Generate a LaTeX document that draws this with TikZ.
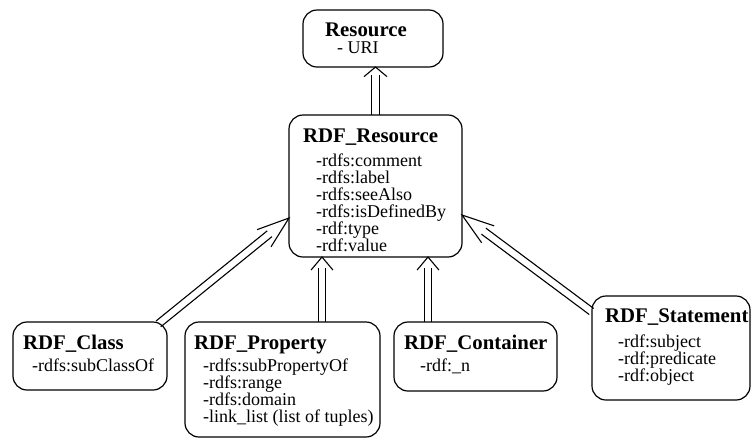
\documentclass[tikz,border=0pt]{standalone}
\usepackage{fontspec}
\setmainfont{Liberation Serif}
\usetikzlibrary{calc}
\tikzset{
  box/.style={draw, line width=1.2pt, rounded corners=14pt, inner sep=0pt, outer sep=0pt},
  ttl/.style={anchor=base west, inner sep=0pt, font=\fontsize{20.8}{22}\selectfont\bfseries},
  att/.style={anchor=base west, inner sep=0pt, font=\fontsize{18}{17}\selectfont},
  conn/.style={line width=1.1pt, line join=miter}
}
\newcommand\inhconn[5]{%
  \coordinate (q) at ($(#2)!#3!(#1)$);
  \draw[conn] ($(#1)!3.75pt!90:(#2)$) -- ($(q)!3.75pt!-90:(#1)$);
  \draw[conn] ($(#1)!3.75pt!-90:(#2)$) -- ($(q)!3.75pt!90:(#1)$);
  \draw[conn] ($(#2)!#4!#5:(#1)$) -- (#2) -- ($(#2)!#4!-#5:(#1)$);
}
\begin{document}
\begin{tikzpicture}[x=1pt,y=-1pt]
\useasboundingbox (0,0) rectangle (752,440);
% boxes
\node[box, minimum width=140pt, minimum height=57pt] (res) at (373,38.5) {};
\node[box, minimum width=173pt, minimum height=142pt] (rdfres) at (375.5,186) {};
\node[box, minimum width=154pt, minimum height=68pt] (cls) at (90,356) {};
\node[box, minimum width=195pt, minimum height=115pt] (prop) at (282.5,379.5) {};
\node[box, minimum width=163pt, minimum height=69pt] (cont) at (475.5,356.5) {};
\node[box, minimum width=158pt, minimum height=104pt] (stmt) at (671,348) {};
% texts
\node[ttl] (resT) at (325,36) {Resource};
\node[att] (resA) at (337,53) {- URI};
\node[ttl] (rrT) at (303,142) {RDF\_Resource};
\node[att] (rr1) at (316,166.7) {-rdfs:comment};
\node[att] (rr2) at (316,183.6) {-rdfs:label};
\node[att] (rr3) at (316,200.5) {-rdfs:seeAlso};
\node[att] (rr4) at (316,217.4) {-rdfs:isDefinedBy};
\node[att] (rr5) at (316,234.3) {-rdf:type};
\node[att] (rr6) at (316,251.2) {-rdf:value};
\node[ttl] (clsT) at (23,349) {RDF\_Class};
\node[att] (cls1) at (32,371) {-rdfs:subClassOf};
\node[ttl] (propT) at (194,349) {RDF\_Property};
\node[att] (prop1) at (203,371.5) {-rdfs:subPropertyOf};
\node[att] (prop2) at (203,388.5) {-rdfs:range};
\node[att] (prop3) at (203,405.5) {-rdfs:domain};
\node[att] (prop4) at (203,422.5) {-link\_list (list of tuples)};
\node[ttl] (contT) at (404,349) {RDF\_Container};
\node[att] (cont1) at (420,371) {-rdf:\_n};
\node[ttl] (stmtT) at (605,322) {RDF\_Statement};
\node[att] (stmt1) at (618,347) {-rdf:subject};
\node[att] (stmt2) at (618,364) {-rdf:predicate};
\node[att] (stmt3) at (618,381) {-rdf:object};
% connector end points
\coordinate (t1) at (rdfres.north |- res.south);
\coordinate (c1) at (rdfres.north);
\coordinate (t2) at ($(rdfres.south west)+(33,0)$);
\coordinate (c2) at (t2 |- prop.north);
\coordinate (t3) at ($(rdfres.south east)+(-34,0)$);
\coordinate (c3) at (t3 |- cont.north);
\coordinate (t4) at ($(rdfres.north west)+(0,103)$);
\coordinate (c4) at ($(cls.north east)+(-8.6,1.9)$);
\coordinate (t5) at ($(rdfres.north east)+(0,100)$);
\coordinate (c5) at ($(stmt.north west)+(-0.5,15.5)$);
% connectors
\inhconn{c1}{t1}{8pt}{15pt}{50}
\inhconn{c2}{t2}{11pt}{17pt}{40}
\inhconn{c3}{t3}{11pt}{17pt}{40}
\inhconn{c4}{t4}{25pt}{34pt}{19}
\inhconn{c5}{t5}{27pt}{34pt}{18}
\end{tikzpicture}
\end{document}
